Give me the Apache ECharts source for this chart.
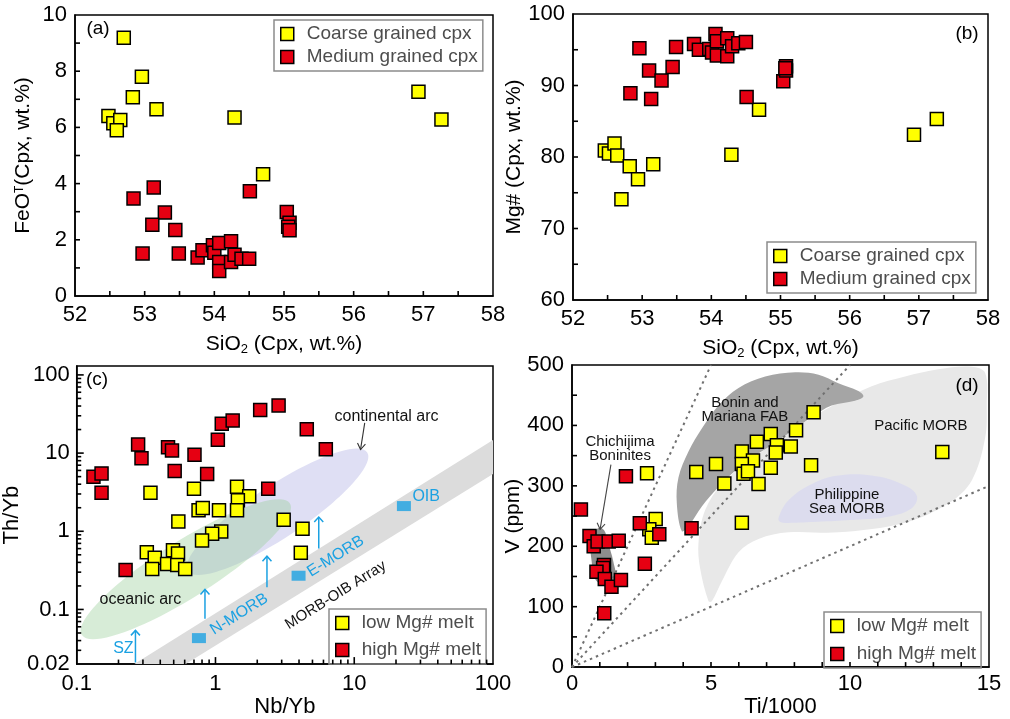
<!DOCTYPE html>
<html>
<head>
<meta charset="utf-8">
<title>Cpx chemistry</title>
<script src="https://cdn.jsdelivr.net/npm/echarts@6/dist/echarts.min.js"></script>
<style>
  html, body { margin: 0; padding: 0; background: #fff; }
  #chart { width: 1010px; height: 719px; }
</style>
</head>
<body>
<div id="chart"></div>
<script>
// ---- (a) SiO2 vs FeOT ----
const coarseFeO = [[52.70, 9.19], [52.96, 7.80], [52.83, 7.07], [53.17, 6.65], [52.48, 6.41], [52.55, 6.15],
  [52.65, 6.26], [52.60, 5.90], [54.29, 6.35], [54.70, 4.33], [56.93, 7.27], [57.26, 6.28]]
const mediumFeO = [[52.84, 3.47], [53.13, 3.86], [53.29, 2.97], [53.11, 2.54], [53.44, 2.35], [52.97, 1.51],
  [53.49, 1.51], [53.76, 1.37], [53.83, 1.63], [53.98, 1.81], [54.00, 1.54], [54.07, 1.89], [54.07, 1.21],
  [54.07, 0.89], [54.24, 1.95], [54.24, 1.21], [54.29, 1.47], [54.39, 1.33], [54.50, 1.33], [54.51, 3.73],
  [55.04, 2.99], [55.08, 2.61], [55.06, 2.46], [55.08, 2.34]]

// ---- (b) SiO2 vs Mg# ----
const coarseMg = [[52.46, 80.9], [52.52, 80.5], [52.60, 81.9], [52.64, 80.2], [52.70, 74.1], [52.82, 78.7],
  [52.94, 76.9], [53.16, 79.0], [54.29, 80.3], [54.69, 86.6], [56.93, 83.1], [57.26, 85.3]]
const mediumMg = [[52.83, 88.9], [52.96, 95.2], [53.10, 92.1], [53.13, 88.1], [53.28, 90.7], [53.44, 92.6],
  [53.49, 95.4], [53.75, 95.8], [53.82, 95.0], [53.97, 95.1], [54.01, 94.6], [54.06, 97.2], [54.08, 96.2],
  [54.08, 94.2], [54.23, 96.6], [54.23, 94.1], [54.30, 95.5], [54.39, 95.9], [54.50, 96.1], [54.51, 88.4],
  [55.04, 90.6], [55.08, 92.7], [55.08, 92.1], [55.07, 92.4]]

// ---- (c) Nb/Yb vs Th/Yb ----
const lowMgThYb = [[0.34, 3.1], [0.70, 3.5], [1.43, 3.7], [1.75, 2.8], [1.45, 2.5], [0.755, 1.86], [0.81, 1.99],
  [1.06, 1.86], [1.43, 1.86], [0.54, 1.33], [3.1, 1.4], [4.24, 1.08], [1.10, 0.99], [0.946, 0.93], [0.80, 0.76],
  [4.12, 0.53], [0.32, 0.54], [0.365, 0.46], [0.35, 0.33], [0.448, 0.38], [0.494, 0.57], [0.537, 0.52],
  [0.53, 0.37], [0.605, 0.33]]
const highMgThYb = [[0.132, 5.0], [0.151, 5.5], [0.151, 3.1], [0.225, 0.32], [0.277, 12.9], [0.293, 8.6],
  [0.455, 11.9], [0.486, 10.8], [0.508, 5.9], [0.706, 9.5], [0.871, 5.4], [1.04, 14.8], [1.11, 23.8],
  [1.33, 26.1], [2.1, 35.6], [2.85, 40.7], [4.55, 20.2], [6.24, 11.2], [2.4, 3.5]]
const mantleRefs = [[0.76, 0.043], [3.97, 0.27], [22.8, 2.1]]           // N-MORB, E-MORB, OIB
const morbOibArray = [[0.26, 0.02], [100, 14.7], [100, 5.4], [0.61, 0.02]]
const oceanicArcAxis = [[0.109, 0.047], [3.44, 2.27]]
const continentalArcAxis = [[0.634, 0.309], [12.4, 10.2]]
const szArrows = [[0.265, 0.021, 0.054], [0.84, 0.076, 0.18], [2.35, 0.193, 0.48], [5.55, 0.6, 1.52]]
const logXLabels = ['0.1', '1', '10', '100']
const logYLabels = ['0.02', '0.1', '1', '10', '100']

// ---- (d) Ti/1000 vs V ----
const lowMgV = [[8.69, 422], [8.06, 392], [7.15, 386], [6.65, 373], [7.37, 367], [7.87, 365], [6.11, 357],
  [7.33, 355], [6.51, 342], [6.11, 336], [5.18, 336], [7.15, 330], [8.60, 334], [6.17, 320], [6.33, 324],
  [4.47, 323], [5.48, 304], [6.71, 303], [6.11, 239], [13.32, 356], [2.70, 321], [3.01, 245], [2.78, 228],
  [2.87, 214]]
const highMgV = [[0.32, 261], [1.94, 316], [2.44, 238], [2.62, 171], [3.14, 220], [4.30, 230], [0.63, 217],
  [0.78, 200], [0.92, 208], [1.32, 208], [1.68, 209], [1.15, 169], [1.12, 164], [0.88, 158], [1.18, 146],
  [1.42, 133], [1.76, 144], [1.16, 89]]
const tiVLines = [[[0, 0], [5, 500]], [[0, 0], [10, 500]], [[0, 0], [15, 300]]]   // Ti/V = 10, 20, 50
const pacificMorb = [[4.91, 109], [4.61, 163], [4.55, 206], [4.79, 260], [5.39, 303], [6.23, 336], [7.19, 368],
  [8.39, 406], [9.58, 438], [10.78, 465], [11.98, 481], [13.18, 493], [14.38, 497], [14.86, 487], [14.92, 433],
  [14.86, 379], [14.38, 309], [13.54, 271], [11.98, 239], [9.58, 223], [7.79, 223], [6.71, 212], [5.99, 190],
  [5.39, 142], [5.03, 109]]
const boninMarianaFab = [[3.77, 271], [3.83, 314], [4.19, 357], [4.67, 395], [5.27, 433], [5.99, 462],
  [6.95, 481], [8.03, 488], [8.87, 484], [9.58, 470], [10.30, 457], [10.48, 448], [10.18, 441], [9.34, 433],
  [8.63, 414], [8.03, 395], [7.19, 368], [6.47, 346], [5.87, 325], [5.27, 298], [4.67, 266], [4.19, 233],
  [3.95, 225]]
const philippineSeaMorb = [[7.43, 247], [7.79, 276], [8.63, 303], [9.58, 317], [10.78, 317], [11.86, 303],
  [12.40, 284], [12.22, 263], [11.38, 249], [10.18, 244], [8.99, 241], [7.91, 239], [7.49, 240]]
const chichijima = [[0.71, 214], [0.89, 228], [1.07, 230], [1.25, 217], [1.37, 195], [1.49, 174], [1.55, 152],
  [1.37, 136], [1.07, 136], [0.77, 152], [0.71, 174], [0.67, 195]]

const notesC = [
  ['oceanic arc', 0.288, 0.133],
  ['continental arc', 17.1, 29]
]
const bandNotesC = [
  ['SZ', 0.217, 0.0315, false],
  ['N-MORB', 1.48, 0.087, true],
  ['E-MORB', 7.35, 0.478, true],
  ['OIB', 33, 2.76, false]
]
const notesD = [
  ['Bonin and\nMariana FAB', 6.22, 425],
  ['Chichijima\nBoninites', 1.73, 361],
  ['Pacific MORB', 12.55, 400],
  ['Philippine\nSea MORB', 9.89, 273]
]
const pointerArrowsC = [[11.9, 24.4, 11.1, 11.1]]
const pointerArrowsD = [[1.40, 335, 1.01, 228]]

const FONT = '"Liberation Sans", Arial, Helvetica, sans-serif'
const YELLOW = '#ffff00'
const RED = '#e60012'
const BLUE = '#1ba1e2'

// axis ranges: [min, max, label interval, tick step]
const axA = { x: [52, 58, 1, 0.5], y: [0, 10, 2, 1] }
const axB = { x: [52, 58, 1, 0.5], y: [60, 100, 10, 5] }
const axC = { x: [0.1, 100], y: [0.02, 130] }
const axD = { x: [0, 15, 5, 1], y: [0, 500, 100, 50] }

const chart = echarts.init(document.getElementById('chart'))

const nameRich = {
  n: { fontSize: 21, fontFamily: FONT, color: '#000', lineHeight: 24 },
  sub: { fontSize: 13, fontFamily: FONT, color: '#000', lineHeight: 24, padding: [11, 0, 0, 0] },
  sup: { fontSize: 12, fontFamily: FONT, color: '#000', lineHeight: 24, padding: [0, 0, 7, 0] }
}

const makeAxis = (gi, opts) => Object.assign({
  gridIndex: gi,
  type: 'value',
  nameLocation: 'middle',
  nameTextStyle: { color: '#000', fontSize: 21, fontFamily: FONT, rich: nameRich },
  axisLine: { show: true, onZero: false, lineStyle: { color: '#000', width: 1.5 } },
  axisTick: { show: false },
  minorTick: { show: false },
  splitLine: { show: false },
  axisLabel: { show: true, color: '#000', fontSize: 22, fontFamily: FONT, margin: 8 }
}, opts)

const logLabel = list => v => {
  const hit = list.find(l => Math.abs(Math.log10(v) - Math.log10(+l)) < 1e-4)
  return hit || ''
}

// tick positions strictly inside an axis range
const linearTicks = r => {
  const out = []
  for (let v = r[0] + r[3]; v < r[1] - 1e-9; v += r[3]) out.push(+v.toFixed(6))
  return out
}
const logTicks = (r, minor) => {
  const out = []
  for (let e = Math.floor(Math.log10(r[0])); e <= Math.ceil(Math.log10(r[1])); e++) {
    const ks = minor ? [2, 3, 4, 5, 6, 7, 8, 9] : [1]
    ks.forEach(k => {
      const v = +(k * Math.pow(10, e)).toPrecision(3)
      if (v > r[0] * 1.0001 && v < r[1] * 0.9999) out.push(v)
    })
  }
  return out
}

// inward ticks as thin bar symbols placed on the axis through the grid's own scales
const tickMarks = (gi, dim, values, anchor, len) => ({
  type: 'scatter', xAxisIndex: gi, yAxisIndex: gi, silent: true, z: 20, clip: false,
  data: values.map(v => dim === 'x' ? [v, anchor] : [anchor, v]),
  symbol: 'rect',
  symbolSize: dim === 'x' ? [1.6, len] : [len, 1.6],
  symbolOffset: dim === 'x' ? [0, -len / 2] : [len / 2, 0],
  itemStyle: { color: '#000', opacity: 1 },
  emphasis: { disabled: true }
})

const squares = (name, data, color, gi) => ({
  type: 'scatter', name: name, data: data, xAxisIndex: gi, yAxisIndex: gi,
  symbol: 'rect', symbolSize: 13, z: 12,
  itemStyle: { color: color, borderColor: '#000', borderWidth: 1.5, opacity: 1 }
})

const polygon = (gi, pts, fill, smooth, z) => ({
  type: 'custom', xAxisIndex: gi, yAxisIndex: gi, silent: true, z: z,
  data: [pts[0]],
  renderItem: (params, api) => ({
    type: 'polygon',
    shape: { points: pts.map(p => api.coord(p)), smooth: smooth },
    style: { fill: fill }
  })
})

const ellipse = (gi, axisPts, halfWidth, fill, z) => ({
  type: 'custom', xAxisIndex: gi, yAxisIndex: gi, silent: true, z: z,
  data: [axisPts[0]],
  renderItem: (params, api) => {
    const a = api.coord(axisPts[0]), b = api.coord(axisPts[1])
    const dx = b[0] - a[0], dy = b[1] - a[1]
    return {
      type: 'ellipse',
      x: (a[0] + b[0]) / 2, y: (a[1] + b[1]) / 2,
      rotation: Math.atan2(-dy, dx),
      shape: { cx: 0, cy: 0, rx: Math.sqrt(dx * dx + dy * dy) / 2, ry: halfWidth },
      style: { fill: fill }
    }
  }
})

const arrowShape = (p0, p1, color, width, head) => {
  const dx = p1[0] - p0[0], dy = p1[1] - p0[1]
  const len = Math.sqrt(dx * dx + dy * dy)
  const ux = dx / len, uy = dy / len
  const nx = -uy, ny = ux
  const bx = p1[0] - ux * head[0], by = p1[1] - uy * head[0]
  return {
    type: 'group',
    children: [
      { type: 'polyline', shape: { points: [p0, p1] }, style: { stroke: color, lineWidth: width, fill: null } },
      { type: 'polyline', shape: { points: [[bx + nx * head[1], by + ny * head[1]], p1, [bx - nx * head[1], by - ny * head[1]]] },
        style: { stroke: color, lineWidth: width, fill: null } }
    ]
  }
}

const textSeries = (gi, notes, size, color) => ({
  type: 'custom', xAxisIndex: gi, yAxisIndex: gi, silent: true, z: 8,
  data: notes.map(n => [n[1], n[2]]),
  renderItem: (params, api) => {
    const p = api.coord([api.value(0), api.value(1)])
    return {
      type: 'text', x: p[0], y: p[1],
      style: { text: notes[params.dataIndex][0], fill: color, font: size + 'px ' + FONT,
        align: 'center', verticalAlign: 'middle', lineHeight: size - 1 }
    }
  }
})

// rotation for labels that follow the MORB-OIB array
const bandAngle = api => {
  const a = api.coord(morbOibArray[0]), b = api.coord(morbOibArray[1])
  return Math.atan2(a[1] - b[1], b[0] - a[0])
}

const legendBase = {
  orient: 'vertical', itemWidth: 13, itemHeight: 13, icon: 'rect', selectedMode: false,
  borderColor: '#8c8c8c', borderWidth: 1.5, padding: [4, 5, 4, 6],
  itemStyle: { borderColor: '#000', borderWidth: 1.5 },
  textStyle: { fontSize: 19, color: '#4d4d4d', fontFamily: FONT, lineHeight: 20, padding: [0, 0, 0, 8] }
}

const option = {
  animation: false,
  backgroundColor: '#fff',
  textStyle: { fontFamily: FONT },
  grid: [
    { left: 75, top: 15, width: 418, height: 281, show: true, borderColor: '#000', borderWidth: 1.5 },
    { left: 573, top: 14, width: 415, height: 286, show: true, borderColor: '#000', borderWidth: 1.5 },
    { left: 75, top: 366, width: 418, height: 309, show: true, borderColor: '#000', borderWidth: 1.5 },
    { left: 572, top: 365, width: 417, height: 309, show: true, borderColor: '#000', borderWidth: 1.5 }
  ],
  xAxis: [
    makeAxis(0, { min: axA.x[0], max: axA.x[1], interval: axA.x[2],
      name: '{n|SiO}{sub|2}{n| (Cpx, wt.%)}', nameGap: 36 }),
    makeAxis(1, { min: axB.x[0], max: axB.x[1], interval: axB.x[2],
      name: '{n|SiO}{sub|2}{n| (Cpx, wt.%)}', nameGap: 36 }),
    makeAxis(2, { type: 'log', logBase: 10, min: axC.x[0], max: axC.x[1],
      axisLabel: { show: true, color: '#000', fontSize: 22, fontFamily: FONT, margin: 9, formatter: logLabel(logXLabels) },
      name: 'Nb/Yb', nameGap: 22, nameTextStyle: { color: '#000', fontSize: 22, fontFamily: FONT } }),
    makeAxis(3, { min: axD.x[0], max: axD.x[1], interval: axD.x[2],
      axisLabel: { show: true, color: '#000', fontSize: 22, fontFamily: FONT, margin: 6 },
      name: 'Ti/1000', nameGap: 23, nameTextStyle: { color: '#000', fontSize: 22, fontFamily: FONT } })
  ],
  yAxis: [
    makeAxis(0, { min: axA.y[0], max: axA.y[1], interval: axA.y[2],
      name: '{n|FeO}{sup|T}{n|(Cpx, wt.%)}', nameGap: 40 }),
    makeAxis(1, { min: axB.y[0], max: axB.y[1], interval: axB.y[2],
      name: 'Mg# (Cpx, wt.%)', nameGap: 40 }),
    makeAxis(2, { type: 'log', logBase: 10, min: axC.y[0], max: axC.y[1],
      axisLabel: { show: true, color: '#000', fontSize: 22, fontFamily: FONT, margin: 7, formatter: logLabel(logYLabels) },
      name: 'Th/Yb', nameGap: 40, nameTextStyle: { color: '#000', fontSize: 22, fontFamily: FONT } }),
    makeAxis(3, { min: axD.y[0], max: axD.y[1], interval: axD.y[2],
      name: 'V (ppm)', nameGap: 47 })
  ],
  legend: [
    Object.assign({}, legendBase, { data: ['Coarse grained cpx', 'Medium grained cpx'], left: 274, top: 20, itemGap: 3 }),
    Object.assign({}, legendBase, { data: ['Coarse grained cpx', 'Medium grained cpx'], left: 767, top: 242, itemGap: 3 }),
    Object.assign({}, legendBase, { data: ['low Mg# melt', 'high Mg# melt'], left: 329, top: 609, itemGap: 7 }),
    Object.assign({}, legendBase, { data: ['low Mg# melt', 'high Mg# melt'], left: 824, top: 612, itemGap: 8 })
  ],
  graphic: [
    ['(a)', 98, 29], ['(b)', 967, 34], ['(c)', 97, 380], ['(d)', 967, 386]
  ].map(t => ({
    type: 'text', x: t[1], y: t[2], z: 20,
    style: { text: t[0], font: '19px ' + FONT, fill: '#000', align: 'center', verticalAlign: 'middle' }
  })),
  series: [
    // (a)
    tickMarks(0, 'x', linearTicks(axA.x), axA.y[0], 5),
    tickMarks(0, 'y', linearTicks(axA.y), axA.x[0], 5),
    squares('Coarse grained cpx', coarseFeO, YELLOW, 0),
    squares('Medium grained cpx', mediumFeO, RED, 0),
    // (b)
    tickMarks(1, 'x', linearTicks(axB.x), axB.y[0], 5),
    tickMarks(1, 'y', linearTicks(axB.y), axB.x[0], 5),
    squares('Coarse grained cpx', coarseMg, YELLOW, 1),
    squares('Medium grained cpx', mediumMg, RED, 1),
    // (c) fields
    polygon(2, morbOibArray, '#dcdcdc', 0, 1),
    ellipse(2, continentalArcAxis, 26, 'rgba(170, 170, 225, 0.38)', 2),
    ellipse(2, oceanicArcAxis, 28, 'rgba(150, 205, 150, 0.38)', 3),
    tickMarks(2, 'x', logTicks(axC.x, false), axC.y[0], 7),
    tickMarks(2, 'x', logTicks(axC.x, true), axC.y[0], 4.5),
    tickMarks(2, 'y', logTicks(axC.y, false), axC.x[0], 7),
    tickMarks(2, 'y', logTicks(axC.y, true), axC.x[0], 4.5),
    {
      type: 'custom', xAxisIndex: 2, yAxisIndex: 2, silent: true, z: 6,
      data: szArrows.map(a => [a[0], a[1]]),
      renderItem: (params, api) => {
        const a = szArrows[params.dataIndex]
        return arrowShape(api.coord([a[0], a[1]]), api.coord([a[0], a[2]]), BLUE, 1.5, [5, 4.5])
      }
    },
    {
      type: 'custom', xAxisIndex: 2, yAxisIndex: 2, silent: true, z: 6,
      data: pointerArrowsC.map(a => [a[0], a[1]]),
      renderItem: (params, api) => {
        const a = pointerArrowsC[params.dataIndex]
        return arrowShape(api.coord([a[0], a[1]]), api.coord([a[2], a[3]]), '#333', 1.1, [6, 4])
      }
    },
    {
      type: 'scatter', name: 'mantle reference', xAxisIndex: 2, yAxisIndex: 2, data: mantleRefs,
      symbol: 'rect', symbolSize: [14, 10], z: 7, itemStyle: { color: BLUE }
    },
    textSeries(2, notesC, 16, '#111'),
    {
      type: 'custom', xAxisIndex: 2, yAxisIndex: 2, silent: true, z: 8,
      data: bandNotesC.map(n => [n[1], n[2]]),
      renderItem: (params, api) => {
        const n = bandNotesC[params.dataIndex]
        const p = api.coord([n[1], n[2]])
        return {
          type: 'text', x: p[0], y: p[1], rotation: n[3] ? bandAngle(api) : 0,
          style: { text: n[0], fill: BLUE, font: '16px ' + FONT, align: 'center', verticalAlign: 'middle' }
        }
      }
    },
    {
      type: 'custom', xAxisIndex: 2, yAxisIndex: 2, silent: true, z: 8,
      data: [[7.35, 0.152]],
      renderItem: (params, api) => {
        const p = api.coord([api.value(0), api.value(1)])
        return {
          type: 'text', x: p[0], y: p[1], rotation: bandAngle(api),
          style: { text: 'MORB-OIB Array', fill: '#111', font: '15px ' + FONT, align: 'center', verticalAlign: 'middle' }
        }
      }
    },
    squares('low Mg# melt', lowMgThYb, YELLOW, 2),
    squares('high Mg# melt', highMgThYb, RED, 2),
    // (d) fields
    polygon(3, pacificMorb, '#e8e8e8', 0.35, 1),
    polygon(3, philippineSeaMorb, '#dcdcee', 0.4, 2),
    polygon(3, boninMarianaFab, '#a5a5a5', 0.35, 3),
    polygon(3, chichijima, '#8e8e8e', 0.5, 3),
    ...tiVLines.map(l => ({
      type: 'line', xAxisIndex: 3, yAxisIndex: 3, data: l, showSymbol: false, silent: true, z: 5,
      lineStyle: { color: '#707070', width: 2, type: [2.5, 4] }
    })),
    tickMarks(3, 'x', linearTicks(axD.x), axD.y[0], 5),
    tickMarks(3, 'y', linearTicks(axD.y), axD.x[0], 5),
    textSeries(3, notesD, 15, '#111'),
    {
      type: 'custom', xAxisIndex: 3, yAxisIndex: 3, silent: true, z: 6,
      data: pointerArrowsD.map(a => [a[0], a[1]]),
      renderItem: (params, api) => {
        const a = pointerArrowsD[params.dataIndex]
        return arrowShape(api.coord([a[0], a[1]]), api.coord([a[2], a[3]]), '#444', 1.1, [6, 4])
      }
    },
    squares('low Mg# melt', lowMgV, YELLOW, 3),
    squares('high Mg# melt', highMgV, RED, 3)
  ]
}

chart.setOption(option)
window.addEventListener('resize', () => chart.resize())
</script>
</body>
</html>
